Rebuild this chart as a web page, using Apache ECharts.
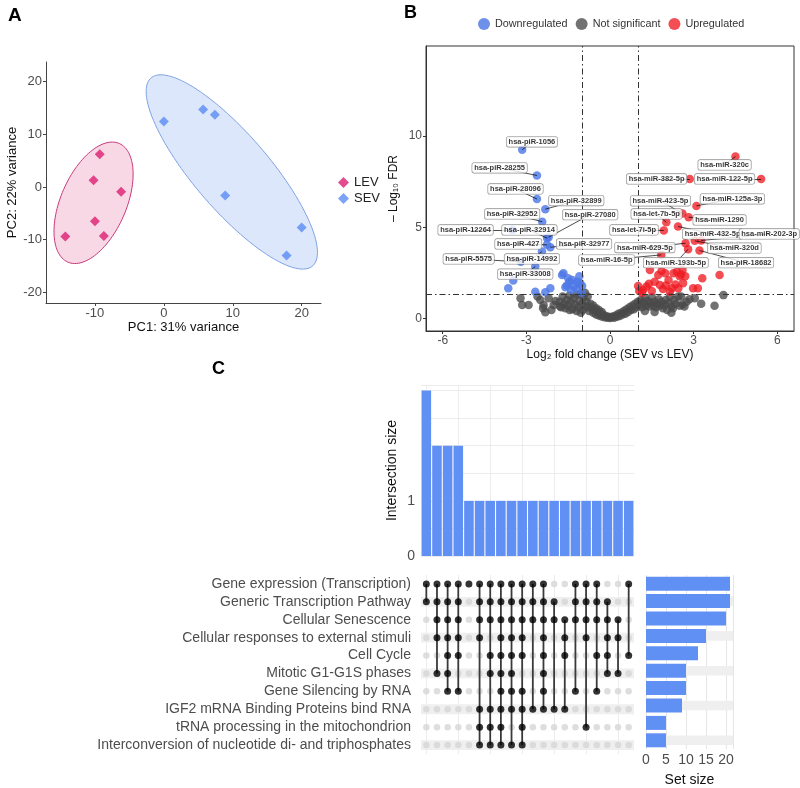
<!DOCTYPE html>
<html>
<head>
<meta charset="UTF-8">
<title>PCA / volcano / UpSet</title>
<script src="https://cdn.jsdelivr.net/npm/echarts@6/dist/echarts.min.js"></script>
<style>
  * { margin: 0; padding: 0; }
  body { background: #fff; }
  #container { width: 800px; height: 788px; }
</style>
</head>
<body>
<div id="container"></div>
<script>
// ---------- A: PCA ----------
var pcaLEV = [[-9.3, 6.2], [-10.2, 1.3], [-6.2, -0.9], [-10.0, -6.5], [-14.3, -9.4], [-8.7, -9.3]];
var pcaSEV = [[0.0, 12.4], [5.7, 14.7], [7.4, 13.7], [8.9, -1.6], [20.0, -7.7], [17.8, -13.0]];
// ellipse: centre x, centre y, semi-major, semi-minor, angle (deg)
var ellipseLEV = [-10.2, -3.0, 11.9, 4.9, 74];
var ellipseSEV = [9.86, 2.85, 21.4, 6.0, -58];

// ---------- B: volcano ----------
var notSig = [
  [-3.21, 1.1], [-3.15, 0.73], [-2.92, 0.73], [-2.5, 1.0], [-2.38, 0.73], [-2.32, 0.33], [-2.02, 0.73],
  [-2.2, 1.1], [-1.79, 0.64], [-2.6, 1.2], [-2.4, 0.55], [-2.1, 0.45], [-1.95, 0.95],
  [-1.8, 0.9], [-1.75, 0.6], [-1.7, 1.2], [-1.65, 0.8], [-1.6, 0.55], [-1.55, 1.0], [-1.5, 0.7],
  [-1.45, 1.25], [-1.4, 0.9], [-1.35, 0.5], [-1.3, 1.1], [-1.25, 0.75], [-1.2, 1.3], [-1.15, 0.6],
  [-1.1, 0.95], [-1.05, 1.35], [-1.0, 0.8], [-0.98, 0.45], [-0.95, 1.15], [-0.9, 0.65], [-0.9, 1.4],
  [-1.2, 0.4], [-1.45, 0.45], [-1.05, 0.3],
  [-0.85, 0.9], [-0.8, 0.6], [-0.8, 1.2], [-0.75, 0.4], [-0.7, 0.8], [-0.65, 0.55], [-0.6, 0.3],
  [-0.6, 0.7], [-0.55, 0.45], [-0.5, 0.2], [-0.5, 0.55], [-0.45, 0.35], [-0.4, 0.15], [-0.4, 0.45],
  [-0.35, 0.25], [-0.3, 0.1], [-0.3, 0.35], [-0.25, 0.2], [-0.2, 0.05], [-0.15, 0.12], [-0.1, 0.03],
  [-0.05, 0.08], [0.0, 0.01], [0.05, 0.05], [0.1, 0.1], [0.15, 0.03], [0.2, 0.15], [0.25, 0.08],
  [0.3, 0.25], [0.35, 0.12], [0.4, 0.3], [0.45, 0.2], [0.5, 0.4], [0.55, 0.25], [0.6, 0.5],
  [0.65, 0.35], [0.7, 0.6], [0.75, 0.45], [0.8, 0.7], [0.85, 0.5], [0.9, 0.8], [0.95, 0.6],
  [1.0, 0.9], [1.05, 0.7], [1.1, 1.0], [1.15, 0.6], [1.2, 0.85], [1.25, 1.1], [1.3, 0.7],
  [1.35, 0.95], [1.4, 0.65], [1.45, 0.85], [1.5, 1.15], [1.55, 0.7], [1.6, 0.9], [1.65, 0.6],
  [1.7, 0.8], [1.75, 1.05], [1.8, 0.7], [1.85, 0.9], [1.9, 0.55], [1.95, 0.75], [2.0, 1.0],
  [2.05, 0.45], [2.1, 0.85], [2.15, 1.2], [2.2, 0.65], [2.26, 0.55], [2.3, 1.0], [2.35, 0.8],
  [2.45, 1.2], [2.55, 1.19], [2.6, 0.75], [2.67, 0.64], [2.75, 0.9], [2.5, 0.69], [2.2, 0.3],
  [3.04, 1.1], [3.27, 0.79], [3.75, 0.69], [4.07, 1.27], [2.85, 1.05], [1.25, 0.4], [1.6, 0.35]
];
var downBulk = [
  [-3.65, 1.65], [-3.47, 2.07], [-2.68, 1.46], [-2.32, 1.43], [-2.14, 1.65], [-1.72, 2.38],
  [-1.67, 2.47], [-1.5, 2.2], [-1.45, 2.0], [-1.3, 1.74], [-1.18, 2.0], [-1.07, 1.92],
  [-1.0, 1.77], [-1.55, 1.8], [-1.4, 1.55], [-1.2, 1.6], [-1.1, 2.3], [-1.02, 1.4],
  [-1.6, 1.7], [-1.35, 2.1]
];
var upBulk = [
  [1.01, 1.77], [1.19, 1.56], [1.43, 2.65], [1.31, 1.74], [1.73, 2.38], [1.79, 1.83], [1.9, 1.6],
  [1.98, 2.47], [2.1, 2.1], [2.22, 1.65], [2.28, 2.47], [2.4, 2.56], [2.5, 2.3], [2.55, 2.4],
  [2.62, 1.92], [2.35, 1.85], [2.98, 1.65], [3.15, 1.65], [3.31, 2.2], [3.93, 2.38], [1.15, 1.4],
  [1.5, 1.5], [1.6, 2.0], [1.85, 2.6], [2.0, 1.8], [2.15, 1.45], [2.45, 1.65], [2.7, 2.3],
  [1.4, 1.9], [2.6, 2.65], [1.05, 1.5]
];
var downNamed = [
  ['hsa-piR-1056', -3.15, 9.25], ['hsa-piR-28255', -2.62, 7.84], ['hsa-piR-28096', -2.62, 6.55],
  ['hsa-piR-32899', -2.32, 5.99], ['hsa-piR-32952', -2.43, 5.3], ['hsa-piR-27080', -2.2, 4.45],
  ['hsa-piR-12264', -3.5, 4.85], ['hsa-piR-32914', -2.26, 4.4], ['hsa-piR-427', -2.26, 4.03],
  ['hsa-piR-32977', -2.14, 3.9], ['hsa-piR-5575', -3.2, 3.1], ['hsa-piR-14992', -2.44, 3.66],
  ['hsa-piR-33008', -2.68, 2.84]
];
var downLabelAt = [
  [-2.8, 9.69], [-3.96, 8.26], [-3.39, 7.1], [-1.21, 6.46], [-3.51, 5.73], [-0.71, 5.69],
  [-5.18, 4.85], [-2.89, 4.85], [-3.29, 4.08], [-0.93, 4.08], [-5.07, 3.26], [-2.8, 3.26],
  [-3.04, 2.42]
];
var upNamed = [
  ['hsa-miR-320c', 4.5, 8.88], ['hsa-miR-382-5p', 2.86, 7.65], ['hsa-miR-122-5p', 5.42, 7.65],
  ['hsa-miR-125a-3p', 3.1, 6.17], ['hsa-miR-423-5p', 2.6, 5.75], ['hsa-let-7b-5p', 2.02, 5.27],
  ['hsa-miR-1290', 2.82, 5.55], ['hsa-let-7i-5p', 1.93, 4.82], ['hsa-miR-432-5p', 2.44, 5.04],
  ['hsa-miR-202-3p', 3.27, 4.27], ['hsa-miR-629-5p', 2.71, 4.12], ['hsa-miR-320d', 3.04, 4.25],
  ['hsa-miR-16-5p', 1.84, 3.48], ['hsa-miR-193b-5p', 2.8, 3.79], ['hsa-piR-18682', 3.21, 3.72]
];
var upLabelAt = [
  [4.11, 8.42], [1.67, 7.65], [4.11, 7.65], [4.39, 6.56], [1.81, 6.45], [1.67, 5.73],
  [3.93, 5.4], [0.86, 4.85], [3.68, 4.63], [5.71, 4.63], [1.25, 3.88], [4.46, 3.85],
  [-0.12, 3.2], [2.36, 3.05], [4.88, 3.05]
];
var fcCut = 1;
var fdrCut = 1.301;

// ---------- C: UpSet ----------
var setNames = [
  'Gene expression (Transcription)', 'Generic Transcription Pathway', 'Cellular Senescence',
  'Cellular responses to external stimuli', 'Cell Cycle', 'Mitotic G1-G1S phases',
  'Gene Silencing by RNA', 'IGF2 mRNA Binding Proteins bind RNA',
  'tRNA processing in the mitochondrion', 'Interconversion of nucleotide di- and triphosphates'
];
var setSizes = [21, 21, 20, 15, 13, 10, 10, 9, 5, 5];
var interSizes = [3, 2, 2, 2, 1, 1, 1, 1, 1, 1, 1, 1, 1, 1, 1, 1, 1, 1, 1, 1];
var interMembers = [
  [0, 1], [0, 1, 2, 3, 5], [0, 1, 2, 3, 4, 5, 6], [0, 1, 2, 3, 4, 6], [0],
  [0, 1, 2, 3, 7, 8, 9], [0, 1, 2, 4, 5, 7, 8, 9], [0, 1, 2, 3, 4, 5, 6, 7, 8, 9],
  [0, 1, 2, 3, 4, 5, 6, 7, 9], [0, 1, 2, 3, 4, 6, 7, 8, 9], [0, 1, 2, 7],
  [0, 1, 2, 3, 4, 5, 6, 7], [1, 2, 7], [2, 3, 4, 7], [0, 1, 2, 6], [0, 1, 2, 3, 8],
  [0, 1, 2, 4, 6], [1, 2, 3, 4, 5], [2, 3, 5], [0, 4]
];

var font = 'Liberation Sans, Arial, Helvetica, sans-serif';
var barBlue = '#6190f4';

var colIds = interSizes.map(function (v, i) { return 'c' + i; });
var dotsOn = [], dotsOff = [], colLinks = [];
for (var c = 0; c < interMembers.length; c++) {
  for (var r = 0; r < setNames.length; r++) {
    if (interMembers[c].indexOf(r) >= 0) dotsOn.push([c, r]);
    else dotsOff.push([c, r]);
  }
  if (interMembers[c].length > 1) {
    colLinks.push([c, Math.min.apply(null, interMembers[c]), Math.max.apply(null, interMembers[c])]);
  }
}
var stripeRows = [];
for (var r = 1; r < setNames.length; r += 2) stripeRows.push([0, r]);

function ellipseItem(params, api) {
  var cx = api.value(0), cy = api.value(1), a = api.value(2), b = api.value(3);
  var ang = api.value(4) * Math.PI / 180;
  var pts = [];
  for (var i = 0; i < 120; i++) {
    var t = i / 120 * 2 * Math.PI;
    pts.push(api.coord([
      cx + a * Math.cos(ang) * Math.cos(t) - b * Math.sin(ang) * Math.sin(t),
      cy + a * Math.sin(ang) * Math.cos(t) + b * Math.cos(ang) * Math.sin(t)
    ]));
  }
  return { type: 'polygon', shape: { points: pts }, style: api.style() };
}

function stripeItem(params, api) {
  var cs = params.coordSys;
  var p = api.coord([api.value(0), api.value(1)]);
  var h = api.size([0, 1])[1] * 0.55;
  return { type: 'rect', shape: { x: cs.x, y: p[1] - h / 2, width: cs.width, height: h }, style: { fill: '#efefef' } };
}

function linkItem(params, api) {
  var p1 = api.coord([api.value(0), api.value(1)]);
  var p2 = api.coord([api.value(0), api.value(2)]);
  return { type: 'line', shape: { x1: p1[0], y1: p1[1], x2: p2[0], y2: p2[1] }, style: { stroke: '#3a3a3a', lineWidth: 1.8 } };
}

function namedPoints(list) { return list.map(function (d) { return [d[1], d[2]]; }); }
function labelBoxes(list, at) {
  return list.map(function (d, i) { return { name: d[0], value: at[i] }; });
}
function leaders(list, at) {
  return list.map(function (d, i) { return { coords: [at[i], [d[1], d[2]]] }; });
}

var labelStyle = {
  show: true, position: 'inside', formatter: '{b}', fontSize: 7.5, fontWeight: 'bold', color: '#000',
  backgroundColor: '#fff', borderColor: '#777', borderWidth: 0.6, borderRadius: 2, padding: [1, 2]
};

var axisText = { color: '#4d4d4d', fontFamily: font };

var option = {
  animation: false,
  textStyle: { fontFamily: font },
  graphic: [
    { type: 'text', left: 8, top: 6, style: { text: 'A', font: 'bold 19px ' + font, fill: '#000' } },
    { type: 'text', left: 404, top: 4, style: { text: 'B', font: 'bold 18px ' + font, fill: '#000' } },
    { type: 'text', left: 212, top: 360, style: { text: 'C', font: 'bold 18px ' + font, fill: '#000' } }
  ],
  legend: [
    {
      data: ['LEV', 'SEV'], orient: 'vertical', left: 333, top: 171, icon: 'diamond',
      itemWidth: 11, itemHeight: 11, itemGap: 3, textStyle: { fontSize: 13, color: '#222' }
    },
    {
      data: ['Downregulated', 'Not significant', 'Upregulated'], left: 473, top: 13, icon: 'circle',
      itemWidth: 12, itemHeight: 12, itemGap: 8, textStyle: { fontSize: 10.8, color: '#333' }
    }
  ],
  grid: [
    { left: 46, top: 62, width: 275, height: 241 },
    { left: 426, top: 46, width: 368, height: 285, show: true, borderColor: '#333', borderWidth: 1 },
    { left: 421, top: 385, width: 213, height: 171 },
    { left: 421, top: 575, width: 213, height: 179 },
    { left: 646, top: 575, width: 87, height: 179 }
  ],
  xAxis: [
    {
      gridIndex: 0, type: 'value', min: -17.1, max: 22.8, splitNumber: 4,
      name: 'PC1: 31% variance', nameLocation: 'middle', nameGap: 18,
      nameTextStyle: { fontSize: 13, color: '#111' },
      axisLine: { onZero: false, lineStyle: { color: '#444' } }, axisTick: { length: 3, lineStyle: { color: '#444' } },
      axisLabel: Object.assign({ fontSize: 13, margin: 4, showMinLabel: false, showMaxLabel: false }, axisText),
      splitLine: { show: false }
    },
    {
      gridIndex: 1, type: 'value', min: -6.6, max: 6.6, splitNumber: 5,
      name: 'Log\u2082 fold change (SEV vs LEV)', nameLocation: 'middle', nameGap: 18,
      nameTextStyle: { fontSize: 12, color: '#111' },
      axisLine: { onZero: false, lineStyle: { color: '#333' } }, axisTick: { length: 3, lineStyle: { color: '#333' } },
      axisLabel: Object.assign({ fontSize: 12, margin: 4, showMinLabel: false, showMaxLabel: false }, axisText),
      splitLine: { show: false }
    },
    {
      gridIndex: 2, type: 'category', data: colIds,
      axisLine: { show: false }, axisTick: { show: false }, axisLabel: { show: false },
      splitLine: { show: true, alignWithLabel: true, lineStyle: { color: '#ececec' } }
    },
    {
      gridIndex: 3, type: 'category', data: colIds,
      axisLine: { show: false }, axisTick: { show: false }, axisLabel: { show: false },
      splitLine: { show: true, alignWithLabel: true, lineStyle: { color: '#ececec' } }
    },
    {
      gridIndex: 4, type: 'value', min: 0, max: 21.75, interval: 5,
      name: 'Set size', nameLocation: 'middle', nameGap: 24, nameTextStyle: { fontSize: 14, color: '#111' },
      axisLine: { show: false }, axisTick: { show: false },
      axisLabel: Object.assign({ fontSize: 14, margin: 4, showMaxLabel: false }, axisText),
      splitLine: { show: true, lineStyle: { color: '#e6e6e6' } }
    }
  ],
  yAxis: [
    {
      gridIndex: 0, type: 'value', min: -22, max: 23.7, splitNumber: 5,
      name: 'PC2: 22% variance', nameLocation: 'middle', nameGap: 25,
      nameTextStyle: { fontSize: 13, color: '#111' },
      axisLine: { show: true, onZero: false, lineStyle: { color: '#444' } },
      axisTick: { show: true, length: 3, lineStyle: { color: '#444' } },
      axisLabel: Object.assign({ fontSize: 13, margin: 4, showMinLabel: false, showMaxLabel: false }, axisText),
      splitLine: { show: false }
    },
    {
      gridIndex: 1, type: 'value', min: -0.7, max: 14.95, splitNumber: 3,
      name: '\u2013 Log\u2081\u2080 FDR', nameLocation: 'middle', nameGap: 26,
      nameTextStyle: { fontSize: 12, color: '#111' },
      axisLine: { show: true, onZero: false, lineStyle: { color: '#333' } },
      axisTick: { show: true, length: 3, lineStyle: { color: '#333' } },
      axisLabel: Object.assign({ fontSize: 12, margin: 4, showMinLabel: false, showMaxLabel: false }, axisText),
      splitLine: { show: false }
    },
    {
      gridIndex: 2, type: 'value', min: 0, max: 3.1, interval: 0.5,
      name: 'Intersection size', nameLocation: 'middle', nameGap: 22,
      nameTextStyle: { fontSize: 14, color: '#111' },
      axisLine: { show: false }, axisTick: { show: false },
      axisLabel: Object.assign({
        fontSize: 14, margin: 6,
        formatter: function (v) { return (v === 0 || v === 1) ? String(v) : ''; }
      }, axisText),
      splitLine: { show: true, lineStyle: { color: '#ececec' } }
    },
    {
      gridIndex: 3, type: 'category', data: setNames, inverse: true,
      axisLine: { show: false }, axisTick: { show: false },
      axisLabel: Object.assign({ fontSize: 14, margin: 10, interval: 0 }, axisText),
      splitLine: { show: false }
    },
    {
      gridIndex: 4, type: 'category', data: setNames, inverse: true,
      axisLine: { show: false }, axisTick: { show: false }, axisLabel: { show: false },
      splitLine: { show: false }
    }
  ],
  series: [
    // A
    {
      type: 'custom', name: 'LEV ellipse', xAxisIndex: 0, yAxisIndex: 0, renderItem: ellipseItem,
      data: [ellipseLEV], silent: true, z: 1,
      itemStyle: { color: 'rgba(232, 90, 150, 0.24)', borderColor: '#c8387c', borderWidth: 1 }
    },
    {
      type: 'custom', name: 'SEV ellipse', xAxisIndex: 0, yAxisIndex: 0, renderItem: ellipseItem,
      data: [ellipseSEV], silent: true, z: 1,
      itemStyle: { color: 'rgba(120, 160, 240, 0.25)', borderColor: '#7ea2e2', borderWidth: 1 }
    },
    {
      type: 'scatter', name: 'LEV', xAxisIndex: 0, yAxisIndex: 0, data: pcaLEV,
      symbol: 'diamond', symbolSize: 10, itemStyle: { color: '#dc1f72' }, z: 3
    },
    {
      type: 'scatter', name: 'SEV', xAxisIndex: 0, yAxisIndex: 0, data: pcaSEV,
      symbol: 'diamond', symbolSize: 10, itemStyle: { color: '#5a8cf4' }, z: 3
    },
    // B
    {
      type: 'scatter', name: 'Not significant', xAxisIndex: 1, yAxisIndex: 1, data: notSig,
      symbolSize: 8.5, itemStyle: { color: '#4a4a4a', opacity: 0.78 },
      markLine: {
        silent: true, symbol: 'none', label: { show: false },
        lineStyle: { color: '#333', width: 1, type: [6, 3, 1.5, 3] },
        data: [{ xAxis: -fcCut }, { xAxis: fcCut }, { yAxis: fdrCut }]
      }
    },
    {
      type: 'scatter', name: 'Downregulated', xAxisIndex: 1, yAxisIndex: 1,
      data: downBulk.concat(namedPoints(downNamed)),
      symbolSize: 8.5, itemStyle: { color: '#4d78e6', opacity: 0.82 }
    },
    {
      type: 'scatter', name: 'Upregulated', xAxisIndex: 1, yAxisIndex: 1,
      data: upBulk.concat(namedPoints(upNamed)),
      symbolSize: 8.5, itemStyle: { color: '#ee1c24', opacity: 0.78 }
    },
    {
      type: 'lines', coordinateSystem: 'cartesian2d', xAxisIndex: 1, yAxisIndex: 1, silent: true,
      data: leaders(downNamed, downLabelAt).concat(leaders(upNamed, upLabelAt)),
      lineStyle: { color: '#000', width: 0.7, opacity: 1 }, z: 4
    },
    {
      type: 'scatter', xAxisIndex: 1, yAxisIndex: 1, silent: true,
      data: labelBoxes(downNamed, downLabelAt).concat(labelBoxes(upNamed, upLabelAt)),
      symbolSize: 0.1, itemStyle: { color: 'rgba(0,0,0,0)' }, label: labelStyle, z: 6
    },
    // C: intersection sizes
    {
      type: 'bar', xAxisIndex: 2, yAxisIndex: 2, data: interSizes,
      barCategoryGap: '10%', itemStyle: { color: barBlue }
    },
    // C: matrix
    {
      type: 'custom', xAxisIndex: 3, yAxisIndex: 3, renderItem: stripeItem, data: stripeRows, silent: true, z: 0
    },
    {
      type: 'scatter', xAxisIndex: 3, yAxisIndex: 3, data: dotsOff, symbolSize: 6.5,
      itemStyle: { color: '#d6d6d6' }, silent: true, z: 1
    },
    {
      type: 'custom', xAxisIndex: 3, yAxisIndex: 3, renderItem: linkItem, data: colLinks, silent: true, z: 2
    },
    {
      type: 'scatter', xAxisIndex: 3, yAxisIndex: 3, data: dotsOn, symbolSize: 7,
      itemStyle: { color: '#000' }, silent: true, z: 3
    },
    // C: set sizes
    {
      type: 'custom', xAxisIndex: 4, yAxisIndex: 4, renderItem: stripeItem, data: stripeRows, silent: true, z: 0
    },
    {
      type: 'bar', xAxisIndex: 4, yAxisIndex: 4, data: setSizes, barWidth: 14,
      itemStyle: { color: barBlue }, z: 2
    }
  ]
};

var chart = echarts.init(document.getElementById('container'));
chart.setOption(option);
</script>
</body>
</html>
